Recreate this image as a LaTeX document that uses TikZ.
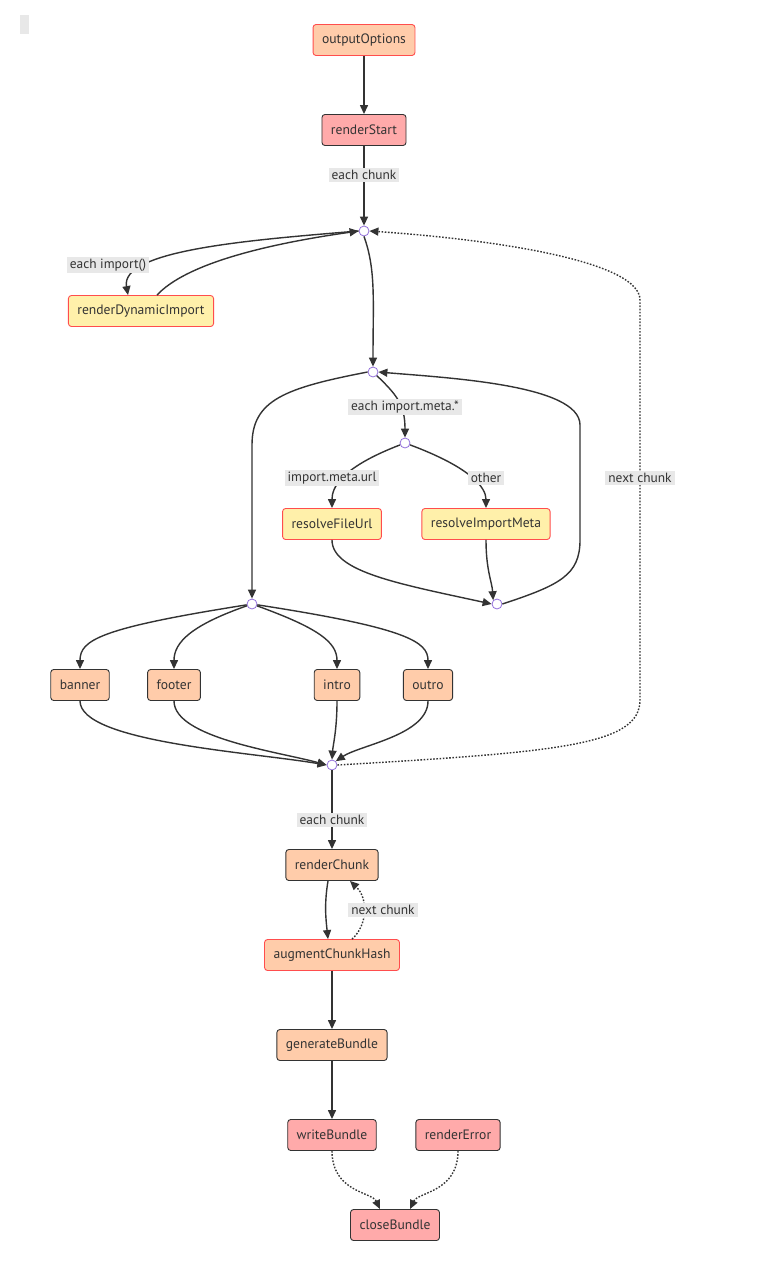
\documentclass[tikz,border=0pt]{standalone}
\usepackage{fontspec}
\setmainfont{PT Sans}
\usetikzlibrary{arrows.meta}

\definecolor{peach}{HTML}{FFCCAA}
\definecolor{pinkred}{HTML}{FFAAAA}
\definecolor{lemon}{HTML}{FFF0AA}
\definecolor{hookred}{HTML}{FF4D4D}
\definecolor{ink}{HTML}{333333}
\definecolor{joint}{HTML}{9370DB}
\definecolor{tag}{HTML}{E8E8E8}

\begin{document}
\begin{tikzpicture}[x=1pt,y=1pt,
    hook/.style={draw=ink,rounded corners=3pt,line width=0.9pt,minimum height=31pt,
      inner xsep=9pt,text=ink,font=\fontsize{13.6}{16}\selectfont},
    first/.style={hook,draw=hookred},
    seq/.style={hook,fill=peach},
    par/.style={hook,fill=lemon,draw=hookred},
    sync/.style={hook,fill=pinkred},
    junction/.style={circle,draw=joint,fill=white,line width=0.8pt,minimum size=10pt,inner sep=0pt},
    lbl/.style={fill=tag,text=ink,inner xsep=3pt,inner ysep=2pt,font=\fontsize{13.4}{15}\selectfont},
    flow/.style={draw=ink,line width=1.4pt,-{Triangle[length=9pt,width=8pt]}},
    later/.style={flow,dash pattern=on 1.6pt off 1.6pt}]
  \useasboundingbox (0,0) rectangle (762,-1266);
  \fill[tag] (20,-15) rectangle (29,-34);

  % hooks
  \node[seq,first]  (output_options) at (364,-40)   {outputOptions};
  \node[sync]       (render_start)   at (364,-130)  {renderStart};
  \node[junction]   (c_1)            at (364,-231)  {};
  \node[par]        (dyn_import)     at (141,-311)  {renderDynamicImport};
  \node[junction]   (c_2)            at (373,-372)  {};
  \node[junction]   (c_3)            at (405,-443)  {};
  \node[par]        (file_url)       at (332,-524)  {resolveFileUrl};
  \node[par]        (import_meta)    at (486,-524)  {resolveImportMeta};
  \node[junction]   (c_4)            at (497,-604)  {};
  \node[junction]   (c_5)            at (252,-604)  {};
  \node[seq]        (banner)         at (80,-685)   {banner};
  \node[seq]        (footer)         at (174,-685)  {footer};
  \node[seq]        (intro)          at (337,-685)  {intro};
  \node[seq]        (outro)          at (428,-685)  {outro};
  \node[junction]   (c_6)            at (332,-765)  {};
  \node[seq]        (render_chunk)   at (332,-865)  {renderChunk};
  \node[seq,first]  (augment_hash)   at (332,-955)  {augmentChunkHash};
  \node[seq]        (gen_bundle)     at (332,-1045) {generateBundle};
  \node[sync]       (write_bundle)   at (332,-1135) {writeBundle};
  \node[sync]       (render_error)   at (458,-1135) {renderError};
  \node[sync]       (close_bundle)   at (395,-1225) {closeBundle};

  % main chain
  \draw[flow] (output_options) -- (render_start);
  \draw[flow] (render_start) -- (c_1);
  \draw[flow] (c_1.west) .. controls (250,-240) and (120,-250) .. ([xshift=-13pt]dyn_import.north);
  \draw[flow] ([xshift=16pt]dyn_import.north) .. controls (185,-265) and (260,-245) .. (c_1.west);
  \draw[flow] (c_1.south) .. controls (376,-270) and (373,-300) .. (c_2.north);
  \draw[flow] (c_2) .. controls (397,-395) and (405,-405) .. (c_3.north);
  \draw[flow] (c_3) .. controls (340,-468) and (332,-488) .. (file_url.north);
  \draw[flow] (c_3) .. controls (472,-468) and (486,-488) .. (import_meta.north);
  \draw[flow] (file_url.south) .. controls (332,-572) and (400,-584) .. (c_4.west);
  \draw[flow] (import_meta.south) .. controls (486,-570) and (492,-582) .. (c_4.north west);
  \draw[flow] (c_4.east) .. controls (560,-585) and (580,-575) .. (580,-540)
    -- (580,-425) .. controls (580,-385) and (450,-378) .. (c_2.east);
  \draw[flow] (c_2.west) .. controls (285,-388) and (252,-400) .. (252,-445) -- (c_5.north);
  \draw[flow] (c_5) .. controls (100,-628) and (80,-640) .. (banner.north);
  \draw[flow] (c_5) .. controls (192,-625) and (174,-642) .. (footer.north);
  \draw[flow] (c_5) .. controls (318,-628) and (337,-642) .. (intro.north);
  \draw[flow] (c_5) .. controls (408,-628) and (428,-642) .. (outro.north);
  \draw[flow] (banner.south) .. controls (80,-742) and (250,-752) .. (c_6.west);
  \draw[flow] (footer.south) .. controls (174,-738) and (280,-752) .. (c_6.west);
  \draw[flow] (intro.south) .. controls (337,-730) and (333,-745) .. (c_6.north);
  \draw[flow] (outro.south) .. controls (428,-735) and (360,-745) .. (c_6.north east);
  \draw[later] (c_6.east) .. controls (560,-752) and (640,-745) .. (640,-700)
    -- (640,-300) .. controls (640,-262) and (500,-240) .. (c_1.east);
  \draw[flow] (c_6) -- (render_chunk);
  \draw[flow] ([xshift=-4pt]render_chunk.south) .. controls (324,-905) and (326,-920) .. ([xshift=-4pt]augment_hash.north);
  \draw[later] ([xshift=20pt]augment_hash.north) .. controls (368,-925) and (368,-898) .. ([xshift=18pt]render_chunk.south);
  \draw[flow] (augment_hash) -- (gen_bundle);
  \draw[flow] (gen_bundle) -- (write_bundle);
  \draw[later] (write_bundle.south) .. controls (332,-1192) and (372,-1192) .. ([xshift=-15pt]close_bundle.north);
  \draw[later] (render_error.south) .. controls (458,-1192) and (418,-1192) .. ([xshift=15pt]close_bundle.north);

  % edge labels
  \node[lbl] (l_chunk)    at (364,-175) {each chunk};
  \node[lbl] (l_dyn)      at (108,-265) {each import()};
  \node[lbl] (l_meta)     at (405,-407) {each import.meta.*};
  \node[lbl] (l_url)      at (332,-478) {import.meta.url};
  \node[lbl] (l_other)    at (486,-478) {other};
  \node[lbl] (l_next)     at (640,-478) {next chunk};
  \node[lbl] (l_chunk2)   at (332,-820) {each chunk};
  \node[lbl] (l_next2)    at (383,-910) {next chunk};
\end{tikzpicture}
\end{document}
